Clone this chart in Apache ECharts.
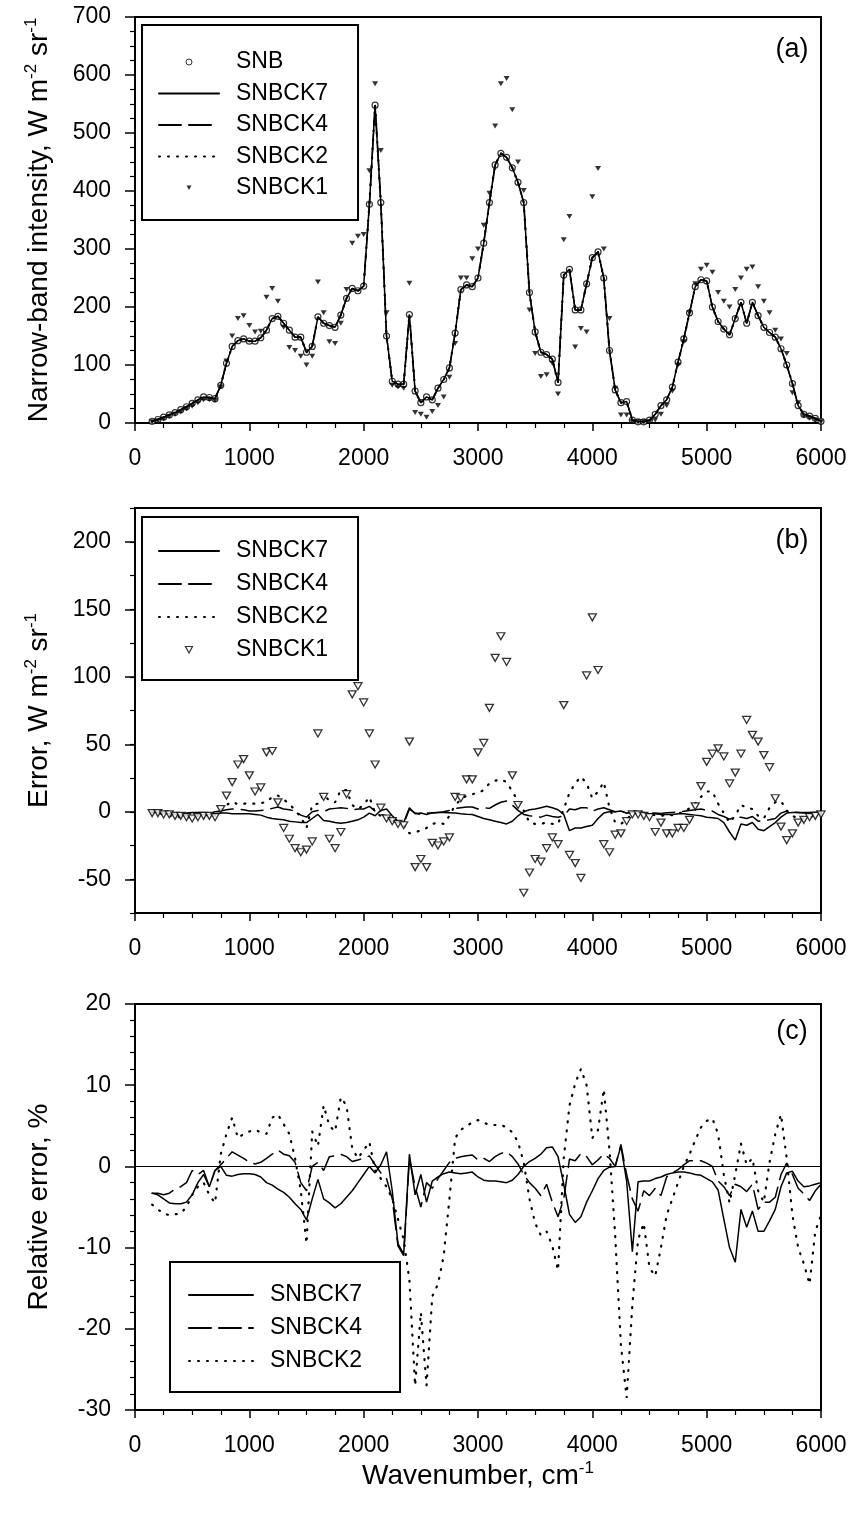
<!DOCTYPE html>
<html>
<head>
<meta charset="utf-8">
<script src="https://cdn.jsdelivr.net/npm/echarts@6/dist/echarts.min.js"></script>
<style>
  html, body { margin: 0; padding: 0; background: #fff; }
  #main { width: 854px; height: 1521px; }
</style>
</head>
<body>
<div id="main"></div>
<script>
// wavenumber grid, cm-1
const wavenumber = [
  150, 200, 250, 300, 350, 400, 450, 500, 550, 600, 650, 700, 750, 800, 850, 900, 950, 1000,
  1050, 1100, 1150, 1200, 1250, 1300, 1350, 1400, 1450, 1500, 1550, 1600, 1650, 1700, 1750, 1800, 1850, 1900, 1950, 2000,
  2050, 2100, 2150, 2200, 2250, 2300, 2350, 2400, 2450, 2500, 2550, 2600, 2650, 2700, 2750, 2800, 2850, 2900, 2950, 3000,
  3050, 3100, 3150, 3200, 3250, 3300, 3350, 3400, 3450, 3500, 3550, 3600, 3650, 3700, 3750, 3800, 3850, 3900, 3950, 4000,
  4050, 4100, 4150, 4200, 4250, 4300, 4350, 4400, 4450, 4500, 4550, 4600, 4650, 4700, 4750, 4800, 4850, 4900, 4950, 5000,
  5050, 5100, 5150, 5200, 5250, 5300, 5350, 5400, 5450, 5500, 5550, 5600, 5650, 5700, 5750, 5800, 5850, 5900, 5950, 6000
];

// (a) narrow-band intensity, W m-2 sr-1
const snb = [
  3, 6, 10, 14, 18, 23, 28, 34, 40, 45, 44, 42, 65, 103, 132, 142, 145, 141,
  141, 147, 160, 180, 184, 172, 160, 148, 148, 122, 132, 183, 172, 168, 165, 186, 215, 232, 228, 236,
  377, 548, 380, 150, 72, 67, 67, 187, 55, 35, 45, 40, 60, 75, 95, 155, 230, 238, 235, 250,
  310, 380, 445, 465, 458, 440, 415, 380, 225, 157, 122, 118, 110, 70, 255, 265, 195, 195, 240, 285,
  295, 250, 125, 57, 35, 37, 5, 2, 2, 5, 15, 30, 40, 62, 105, 145, 190, 235, 247, 245,
  200, 175, 162, 152, 180, 208, 172, 208, 185, 165, 156, 148, 128, 100, 68, 30, 15, 12, 8, 3
];
const snbck1 = [
  2, 4, 7, 11, 15, 19, 24, 29, 35, 40, 40, 39, 62, 107, 150, 180, 185, 168,
  157, 158, 217, 232, 210, 165, 130, 125, 115, 100, 115, 243, 190, 140, 137, 172, 230, 310, 322, 325,
  435, 585, 470, 190, 65, 62, 60, 241, 18, 15, 10, 20, 30, 45, 79, 137, 250, 250, 283, 300,
  341, 396, 512, 585, 594, 540, 450, 401, 195, 120, 80, 83, 103, 50, 316, 356, 131, 163, 157, 390,
  439, 300, 180, 60, 14, 14, 2, 2, 2, 2, 5, 15, 30, 55, 100, 140, 190, 240, 265, 272,
  260, 225, 210, 200, 230, 250, 265, 269, 235, 210, 190, 160, 145, 120, 52, 35, 12, 8, 5, 2
];

// (b) error, W m-2 sr-1
const err7 = [
  0, -0.5, -1, -1.5, -2, -2.5, -3, -3, -2.5, -2, -2, -1.5, -1, -1, -1.5, -1.5, -1.5, -1.5,
  -2, -2.5, -4, -5, -5.5, -6, -7, -7.5, -8, -8, -5, -2, -6.5, -7, -8, -8.5, -8, -7, -6, -4,
  -1, -3, 1, 2, -3, -7, -8, 3, -1.5, -1, -2, -0.8, -0.5, -0.5, -0.7, -1, -1.5, -1.8, -2, -3.5,
  -5, -6, -7, -8, -9, -7, -3, 0, 1.5, 2, 3, 4, 3, 1.5, -2, -14, -12, -12, -11, -10,
  -5, -1, 0, 0, 0.5, -1, -0.5, -0.5, -1, -1.5, -1.5, -2, -2, -2, -1.5, -1.5, -2, -2.5, -3, -4,
  -4.5, -5, -8, -15, -21, -9, -10, -8, -13, -14, -11, -8, -4, -1, -0.5, -0.5, -0.5, -0.5, -0.5, 0
];
const err4 = [
  0, -0.5, -1, -1.5, -1.5, -1.5, -1, -0.5, -0.5, -0.5, -1.5, 0, 0.5, 1.5, 2, 2, 1.5, 0.5,
  0.5, 1, 1.5, 2.5, 3.5, 2, 1.5, 0.5, -2.5, -4, 0, 1, 0, 2, 2.5, 3, 2.5, 1.5, 2, 2,
  4, 0.5, -2, -3, -7, -8, -9, 2, -1, -2, -1, -1, -0.5, 0, 1, 2.5, 3, 3.5, 3.5, 2,
  3, 2.5, 5, 7, 8, 5, 1, -2, -3, -3.5, -4, -2.5, -3.5, -4, -3, 2, 1.5, 3, 3, 0.5,
  2, 3, 1.5, 0, 0.5, -1, -0.2, -0.2, -0.5, -0.8, -1, -1.3, -0.8, -0.5, -0.2, 0.3, 1, 1.5, 2, 1,
  0.5, -2, -3.5, -5.5, -4, -4, -5, -3.5, -7, -6.5, -6, -5, -1, 0.5, -0.2, -0.5, -1, -0.8, -0.5, -0.3
];
const err2 = [
  -0.5, -1, -2, -3, -3.5, -4, -4, -4, -3.5, -2, -3, -3, 1.5, 5, 7.5, 5.5, 6, 6,
  6, 6.5, 7, 11, 12, 9, 6, 1, -4, -12, 5, 6, 13, 8, 7, 16, 16, 5, 2, 5,
  11, -1, -3, -4, -6, -8, -10, -16, -15, -14, -12, -9, -8, -9, -3, 5, 9, 12, 13, 14,
  16, 21, 23, 24, 22, 15, 8, 1, -8, -9, -9, -8, -9, -9, 2, 14, 21, 26, 21, 10,
  15, 22, 3, -8, -9, -6, -1, -1, -1, -1.5, -2.5, -3, -2.5, -2.5, -1.5, 0, 2.5, 6, 11, 15,
  15, 6, -1, -8, -3, 5, 3, 2, -3, -5, 3, 7, 8, 1, -3, -5, -5, -4.5, -2, -1
];
const err1 = [
  -1, -1, -2, -2, -3, -3, -4, -5, -4, -3, -3, -4, 2, 12, 22, 35, 39, 27,
  15, 18, 44, 45, 7, -12, -20, -27, -30, -28, -22, 58, 11, -20, -27, -15, 13, 87, 93, 81,
  58, 35, 3, -5, -7, -9, -10, 52, -41, -35, -41, -23, -25, -22, -19, 11, 10, 24, 24, 44,
  51, 77, 114, 130, 111, 27, 5, -60, -45, -35, -37, -27, -19, -24, 79, -32, -38, -49, 101, 144,
  105, -24, -30, -17, -16, -7, -2, -2, -3, -4, -15, -8, -16, -16, -12, -12, -6, 4, 19, 37,
  43, 47, 41, 21, 29, 43, 68, 57, 52, 42, 33, 10, -11, -21, -16, -8, -6, -4, -3, -2
];

// (c) relative error, %
const rel7 = [
  -3.3, -3.5, -4.0, -4.5, -4.6, -4.6, -4.4, -3.5, -2.0, -1.0, -2.5, -0.5, 0, -1.1, -1.2, -1.0, -0.9, -0.9,
  -1.0, -1.3, -2.0, -2.3, -2.8, -3.2, -3.8, -4.6, -5.3, -6.6, -4.0, -1.6, -4.0, -4.5, -5.1, -4.6, -3.8, -3.0, -2.0, -1.0,
  0, -0.8, 0.2, 1.8, -3.0, -9.5, -10.8, 1.5, -3.5, -1.0, -4.4, -1.8, -1.3, -0.9, -0.7, -0.8, -0.9, -0.8, -0.7, -1.3,
  -1.7, -1.8, -1.8, -1.9, -2.0, -1.7, -1.0, 0, 0.6, 1.0, 1.5, 2.3, 2.4, 1.2, -2.2, -5.9, -6.9, -6.2, -4.4, -3.0,
  -1.5, -0.5, -0.1, 0, 2.5, -1.8, -10.5, -1.9, -1.8, -1.8, -1.5, -1.3, -1.0, -0.8, -0.7, -0.7, -0.8, -1.0, -1.1, -1.5,
  -1.9, -2.9, -6.5, -10.0, -11.8, -5.3, -7.5, -5.5, -8.0, -8.0, -6.7, -5.3, -2.5, -0.8, -0.6, -1.8, -2.5, -2.4, -2.2, -2.0
];
const rel4 = [
  -3.3, -3.3, -3.5, -3.3, -2.8, -2.5, -2.0, -0.5, -1.0, -0.5, -2.5, -0.5, 0.2, 1.0, 1.8, 1.4, 1.0, 0.5,
  0.3, 0.5, 1.0, 1.5, 2.0, 1.5, 1.3, 0.5, -2.0, -3.0, 0, 0.5, -0.5, 1.2, 1.3, 1.5, 1.2, 0.6, 0.8, 1.0,
  1.3, 0.2, -0.8, -1.5, -4.0, -9.8, -11.0, 1.0, -2.5, -5.0, -2.0, -2.7, -1.5, -0.5, 0.5, 1.0, 1.2, 1.3, 1.4, 0.8,
  1.0, 0.6, 1.2, 1.6, 1.8, 1.2, 0.3, -1.0, -2.0, -2.7, -3.6, -2.2, -4.4, -6.2, -4.0, 0.9, 0.7, 1.6, 1.2, 0.2,
  0.8, 1.5, 1.0, 0, 2.7, -1.0, -4.0, -5.5, -3.0, -3.6, -2.7, -3.6, -1.3, -0.8, -0.4, 0.2, 0.7, 0.7, 0.7, 0.4,
  0, -1.8, -2.5, -3.6, -2.2, -2.5, -3.1, -2.2, -5.3, -4.4, -4.4, -3.8, -1.0, 0.4, -1.0, -2.7, -3.4, -4.2, -3.0, -2.2
];
const rel2 = [
  -4.7, -5.3, -5.8, -6.0, -5.9, -5.8, -5.0, -3.5, -2.5, -2.0, -3.5, -4.5, 1.5, 4.0, 6.0, 3.5, 4.0, 4.3,
  4.5, 4.2, 4.0, 6.0, 6.4, 5.2, 4.0, 1.0, -3.0, -9.5, 4.3, 2.5, 7.5, 5.0, 4.3, 8.5, 7.5, 2.2, 1.0, 2.0,
  3.0, -0.5, -1.5, -2.5, -4.0, -6.5, -9.0, -14.0, -27.0, -18.0, -27.0, -16.0, -14.5, -11.0, -4.0, 3.5, 4.5, 5.0, 5.4, 5.7,
  5.4, 5.1, 5.1, 5.1, 4.8, 4.2, 3.0, 0.5, -4.0, -7.0, -8.5, -8.0, -9.8, -12.8, 1.0, 7.5, 10.2, 12.0, 10.0, 3.5,
  4.5, 9.5, 2.0, -8.5, -22.0, -28.5, -17.0, -9.0, -7.0, -12.5, -13.5, -10.0, -6.0, -4.0, -2.0, 0, 1.5, 3.2, 4.8, 5.6,
  5.9, 4.0, -1.0, -4.5, -1.0, 2.8, 0.2, 1.0, -3.0, -4.4, 0.5, 4.0, 6.4, 1.0, -6.0, -10.0, -12.0, -14.5, -8.0, -6.0
];

const errTicks = [-50, 0, 50, 100, 150, 200];

const FONT = 'Liberation Sans, Arial, Helvetica, sans-serif';
const DASH = [22, 8];
const DOT = [1, 8];
const TRI_DOWN = 'path://M0,0 L10,0 L5,9 Z';

function pts(arr) {
  return wavenumber.map((w, i) => [w, arr[i]]);
}

const richName = {
  n: { fontSize: 28, fontFamily: FONT, color: '#000', lineHeight: 32 },
  s: { fontSize: 17, fontFamily: FONT, color: '#000', lineHeight: 17, verticalAlign: 'top' }
};

const tickFont = { color: '#000', fontSize: 23, fontFamily: FONT };

function xAx(grid, extra) {
  return Object.assign({
    type: 'value', gridIndex: grid, min: 0, max: 6000, interval: 1000,
    axisLine: { onZero: false, lineStyle: { color: '#000', width: 2 } },
    axisTick: { length: 8, lineStyle: { color: '#000', width: 1.5 } },
    minorTick: { show: true, splitNumber: 4, length: 5, lineStyle: { color: '#000', width: 1.2 } },
    splitLine: { show: false },
    axisLabel: Object.assign({ margin: 24, formatter: v => String(v) }, tickFont)
  }, extra || {});
}

function yAx(grid, extra) {
  return Object.assign({
    type: 'value', gridIndex: grid,
    axisLine: { show: true, lineStyle: { color: '#000', width: 2 } },
    axisTick: { show: true, length: 10, lineStyle: { color: '#000', width: 1.5 } },
    splitLine: { show: false },
    axisLabel: Object.assign({ margin: 24, formatter: v => String(v) }, tickFont),
    nameLocation: 'middle', nameGap: 80,
    nameTextStyle: { rich: richName }
  }, extra || {});
}

function lineSeries(name, x, y, data, type, extra) {
  return Object.assign({
    name: name, type: 'line', xAxisIndex: x, yAxisIndex: y,
    data: pts(data), symbol: 'none', z: 3,
    lineStyle: { color: '#000', width: type === 'dotted' ? 2.2 : 1.5, type: type === 'dashed' ? DASH : type === 'dotted' ? DOT : 'solid', cap: 'round' },
    itemStyle: { color: '#000' }
  }, extra || {});
}

// legend entry for a line series: line only, no marker
function lineItem(name) {
  return { name: name, itemStyle: { color: 'rgba(0,0,0,0)', borderWidth: 0, opacity: 0 } };
}

function legendBox(left, top, pad, gap, width, data) {
  return {
    orient: 'vertical', left: left, top: top, padding: pad, itemGap: gap,
    itemWidth: width, itemHeight: 14, selectedMode: false,
    borderColor: '#000', borderWidth: 2, backgroundColor: '#fff',
    textStyle: { color: '#000', fontSize: 23, fontFamily: FONT, lineHeight: 24, padding: [0, 0, 0, 12] },
    formatter: n => n.slice(2),
    data: data
  };
}

const circleIcon = 'path://M0,0 M60,14 M27,7 A3,3 0 1,0 33,7 A3,3 0 1,0 27,7 Z';
const triFilledIcon = 'path://M0,0 M60,14 M27.5,4.5 L32.5,4.5 L30,9 Z';
const triHollowIcon = 'path://M0,0 M60,14 M26.5,3.5 L33.5,3.5 L30,10 Z';

const chart = echarts.init(document.getElementById('main'));
chart.setOption({
  animation: false,
  backgroundColor: '#fff',
  textStyle: { fontFamily: FONT },
  grid: [
    { left: 135, top: 17, width: 686, height: 406, show: true, borderColor: '#000', borderWidth: 2 },
    { left: 135, top: 508, width: 686, height: 405, show: true, borderColor: '#000', borderWidth: 2 },
    { left: 135, top: 1004, width: 686, height: 406, show: true, borderColor: '#000', borderWidth: 2 }
  ],
  xAxis: [
    xAx(0),
    xAx(1),
    xAx(2, { name: '{n|Wavenumber, cm}{s|-1}', nameLocation: 'middle', nameGap: 50, nameTextStyle: { rich: richName } })
  ],
  yAxis: [
    yAx(0, {
      min: 0, max: 700, interval: 100,
      minorTick: { show: true, splitNumber: 4, length: 5, lineStyle: { color: '#000', width: 1.2 } },
      name: '{n|Narrow-band intensity, W m}{s|-2}{n| sr}{s|-1}'
    }),
    yAx(1, {
      min: -75, max: 225, interval: 25,
      axisTick: { show: true, length: 5, lineStyle: { color: '#000', width: 1.2 } },
      axisLabel: Object.assign({ margin: 24, formatter: v => (v % 50 === 0 ? String(v) : '') }, tickFont),
      name: '{n|Error, W m}{s|-2}{n| sr}{s|-1}'
    }),
    {
      type: 'value', gridIndex: 1, position: 'left', min: -75, max: 225,
      axisLine: { show: false }, axisLabel: { show: false }, splitLine: { show: false },
      axisTick: { show: true, length: 10, customValues: errTicks, lineStyle: { color: '#000', width: 1.5 } }
    },
    yAx(2, {
      min: -30, max: 20, interval: 10,
      minorTick: { show: true, splitNumber: 5, length: 5, lineStyle: { color: '#000', width: 1.2 } },
      name: '{n|Relative error, %}'
    })
  ],
  legend: [
    legendBox(142, 25, [25, 30, 20, 16], 7.5, 60, [
      { name: 'a SNB', icon: circleIcon, itemStyle: { color: '#fff', borderColor: '#000', borderWidth: 1 } },
      lineItem('a SNBCK7'), lineItem('a SNBCK4'), lineItem('a SNBCK2'),
      { name: 'a SNBCK1', icon: triFilledIcon, itemStyle: { color: '#000', borderWidth: 0 } }
    ]),
    legendBox(142, 517, [22, 30, 18, 16], 9, 60, [
      lineItem('b SNBCK7'), lineItem('b SNBCK4'), lineItem('b SNBCK2'),
      { name: 'b SNBCK1', icon: triHollowIcon, itemStyle: { color: '#fff', borderColor: '#000', borderWidth: 1.2 } }
    ]),
    legendBox(170, 1262, [21, 38, 19, 18], 9, 64, [
      lineItem('c SNBCK7'), lineItem('c SNBCK4'), lineItem('c SNBCK2')
    ])
  ],
  graphic: [
    { type: 'text', x: 792, y: 50, style: { text: '(a)', font: '27px ' + FONT, fill: '#000', align: 'center', verticalAlign: 'middle' } },
    { type: 'text', x: 792, y: 541, style: { text: '(b)', font: '27px ' + FONT, fill: '#000', align: 'center', verticalAlign: 'middle' } },
    { type: 'text', x: 792, y: 1032, style: { text: '(c)', font: '27px ' + FONT, fill: '#000', align: 'center', verticalAlign: 'middle' } }
  ],
  series: [
    // (a)
    { name: 'a SNB', type: 'scatter', xAxisIndex: 0, yAxisIndex: 0, data: pts(snb),
      symbol: 'circle', symbolSize: 6, z: 2,
      itemStyle: { color: '#fff', borderColor: '#000', borderWidth: 1.2 } },
    lineSeries('a SNBCK7', 0, 0, snb, 'solid'),
    lineSeries('a SNBCK4', 0, 0, snb, 'dashed'),
    lineSeries('a SNBCK2', 0, 0, snb, 'dotted'),
    { name: 'a SNBCK1', type: 'scatter', xAxisIndex: 0, yAxisIndex: 0, data: pts(snbck1),
      symbol: TRI_DOWN, symbolSize: [6, 5], z: 4,
      itemStyle: { color: '#000' } },
    // (b)
    lineSeries('b SNBCK7', 1, 1, err7, 'solid'),
    lineSeries('b SNBCK4', 1, 1, err4, 'dashed'),
    lineSeries('b SNBCK2', 1, 1, err2, 'dotted'),
    { name: 'b SNBCK1', type: 'scatter', xAxisIndex: 1, yAxisIndex: 1, data: pts(err1),
      symbol: TRI_DOWN, symbolSize: [8, 7], z: 4,
      itemStyle: { color: '#fff', borderColor: '#000', borderWidth: 1.3 } },
    // (c)
    lineSeries('c SNBCK7', 2, 3, rel7, 'solid', {
      markLine: { silent: true, symbol: 'none', label: { show: false },
        lineStyle: { color: '#000', width: 1, type: 'solid' }, data: [{ yAxis: 0 }] }
    }),
    lineSeries('c SNBCK4', 2, 3, rel4, 'dashed'),
    lineSeries('c SNBCK2', 2, 3, rel2, 'dotted')
  ]
});
</script>
</body>
</html>
